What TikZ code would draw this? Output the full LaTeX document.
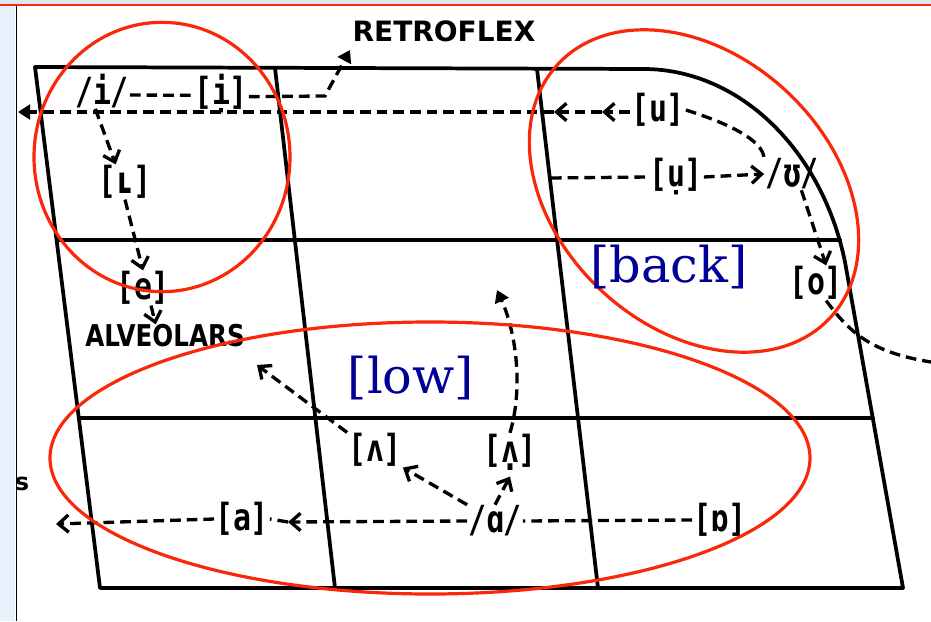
\documentclass[tikz,border=0pt]{standalone}
\usepackage{fontspec}
\usepackage{xcolor}
\usetikzlibrary{arrows.meta}

\newfontfamily\phonfont[FakeStretch=0.8]{DejaVu Sans Mono}
\newfontfamily\capfont{DejaVu Sans}
\newfontfamily\narrowcapfont[FakeStretch=0.82]{DejaVu Sans}
\newfontfamily\notefont{DejaVu Serif}

\definecolor{markred}{RGB}{250,40,10}
\definecolor{noteblue}{RGB}{0,0,150}
\definecolor{stripblue}{RGB}{232,242,252}
\definecolor{bandgray}{RGB}{222,230,238}

\begin{document}
\begin{tikzpicture}[
        x=0.75pt, y=-0.75pt,
        >={Straight Barb[length=7.5pt,width=13pt]},
        chartline/.style={line width=2.8pt, line join=round, line cap=round},
        dline/.style={line width=2.5pt, dash pattern=on 8pt off 4.5pt},
        solidtip/.style={-{Triangle[length=9pt,width=11pt]}},
        phon/.style={inner sep=0.5pt, font=\phonfont\bfseries\fontsize{28}{28}\selectfont},
        letters/.style={inner sep=0pt, font=\capfont\bfseries\fontsize{21}{21}\selectfont},
        note/.style={inner sep=0pt, text=noteblue, font=\notefont\fontsize{37}{37}\selectfont},
        ring/.style={draw=markred, line width=2.4pt},
    ]
    \useasboundingbox (0,0) rectangle (931,621);

    % === PAGE EDGE ===
    \fill[bandgray] (0,0) rectangle (931,4);
    \draw[markred, line width=1.2pt] (0,5) -- (931,5);
    \fill[stripblue] (0,6) rectangle (15,621);
    \draw[line width=1pt] (16.5,6) -- (16.5,621);

    % === VOWEL CHART GRID ===
    \draw[chartline] (35,67) -- (645,69) .. controls (740,70) and (822,150) .. (845,262) -- (903,588) -- (100,588) -- cycle;
    \draw[chartline] (57,240) -- (840,240);
    \draw[chartline] (79,418) -- (873,418);
    \draw[chartline] (275,68) -- (335,588);
    \draw[chartline] (537,69) -- (598,588);

    % === LABELS ===
    \node[phon] (islash) at (102,91) {/i/};
    \node[phon] (idot) at (221,94) {[ị]};
    \node[phon] (lcap) at (125,182) {[ʟ]};
    \node[phon] (evow) at (143,288) {[e]};
    \node[letters, font=\narrowcapfont\bfseries\fontsize{22.5}{22.5}\selectfont] (alveolar) at (165,336) {ALVEOLARS};
    \node[letters] (retroflex) at (444,31) {RETROFLEX};
    \node[letters, font=\capfont\bfseries\fontsize{18}{18}\selectfont] (sfrag) at (22,484) {s};

    \node[phon] (uvow) at (658,110) {[u]};
    \node[phon] (udot) at (676,177) {[ụ]};
    \node[phon] (uslash) at (792,174) {/ʊ/};
    \node[phon] (ovow) at (816,283) {[o]};

    \node[phon] (wedge) at (375,450) {[ʌ]};
    \node[phon] (wedgedot) at (510,452) {[\ooalign{ʌ\cr\hidewidth\raisebox{-0.22em}{.}\hidewidth}]};
    \node[phon] (aslash) at (495,521) {/ɑ/};
    \node[phon] (afront) at (242,519) {[a]};
    \node[phon] (oback) at (720,520) {[ɒ]};

    % free ends
    \coordinate (rbend) at (325,96);
    \coordinate (rtip) at (350,50);
    \coordinate (uarrA) at (602,112);
    \coordinate (uarrB) at (554,112);
    \coordinate (uarrC) at (18,112);
    \coordinate (ustart) at (551,178);
    \coordinate (oexit) at (931,362);
    \coordinate (aarrA) at (288,522);
    \coordinate (aarrB) at (56,524);
    \coordinate (wtip) at (257,365);
    \coordinate (wdtip) at (497,290);

    % === ARROWS ===
    % front, high
    \draw[dline] ([yshift=-3pt]islash.east) -- ([yshift=-1pt]idot.west);
    \draw[dline, solidtip] ([yshift=-2pt]idot.east) -- (rbend) -- (rtip);
    \draw[dline, ->] ([yshift=-1.5pt]uvow.west) -- (uarrA);
    \draw[dline, ->] (uarrA) -- (uarrB);
    \draw[dline, solidtip] (uarrB) -- (uarrC);
    \draw[dline, ->] ([xshift=-5pt]islash.south) -- ([xshift=-7pt]lcap.north);
    \draw[dline, ->] (lcap.south) -- (evow.north);
    \draw[dline, ->] ([xshift=6pt]evow.south) -- ([xshift=-7pt]alveolar.north);

    % back
    \draw[dline] (uvow.east) .. controls (730,124) and (762,140) .. (uslash.north west);
    \draw[dline] (ustart) -- (udot.west);
    \draw[dline, ->] (udot.east) -- (uslash.west);
    \draw[dline, ->] (uslash.-60) -- (ovow.60);
    \draw[dline] (ovow.-60) .. controls (848,330) and (868,352) .. (oexit);

    % low
    \draw[dline] (oback.west) -- (aslash.east);
    \draw[dline, ->] (aslash.west) -- (aarrA);
    \draw[dline] (aarrA) -- (afront.east);
    \draw[dline, ->] (afront.west) -- (aarrB);
    \draw[dline, ->] (aslash.north west) -- (wedge.south east);
    \draw[dline, ->] (aslash.north) -- ([yshift=-4pt]wedgedot.south);
    \draw[dline, ->] (wedge.north west) -- (wtip);
    \draw[dline, solidtip] (wedgedot.north) .. controls (524,385) and (515,330) .. (wdtip);

    % === MARKUP ===
    \draw[ring] (162,157) ellipse [x radius=96pt, y radius=101pt];
    \draw[ring, rotate around={-43:(694,191)}] (694,191) ellipse [x radius=139.5pt, y radius=102pt];
    \draw[ring] (430,458) ellipse [x radius=285pt, y radius=102pt];

    \node[note] (backnote) at (669,267) {[back]};
    \node[note] (lownote) at (411,378) {[low]};
\end{tikzpicture}
\end{document}
